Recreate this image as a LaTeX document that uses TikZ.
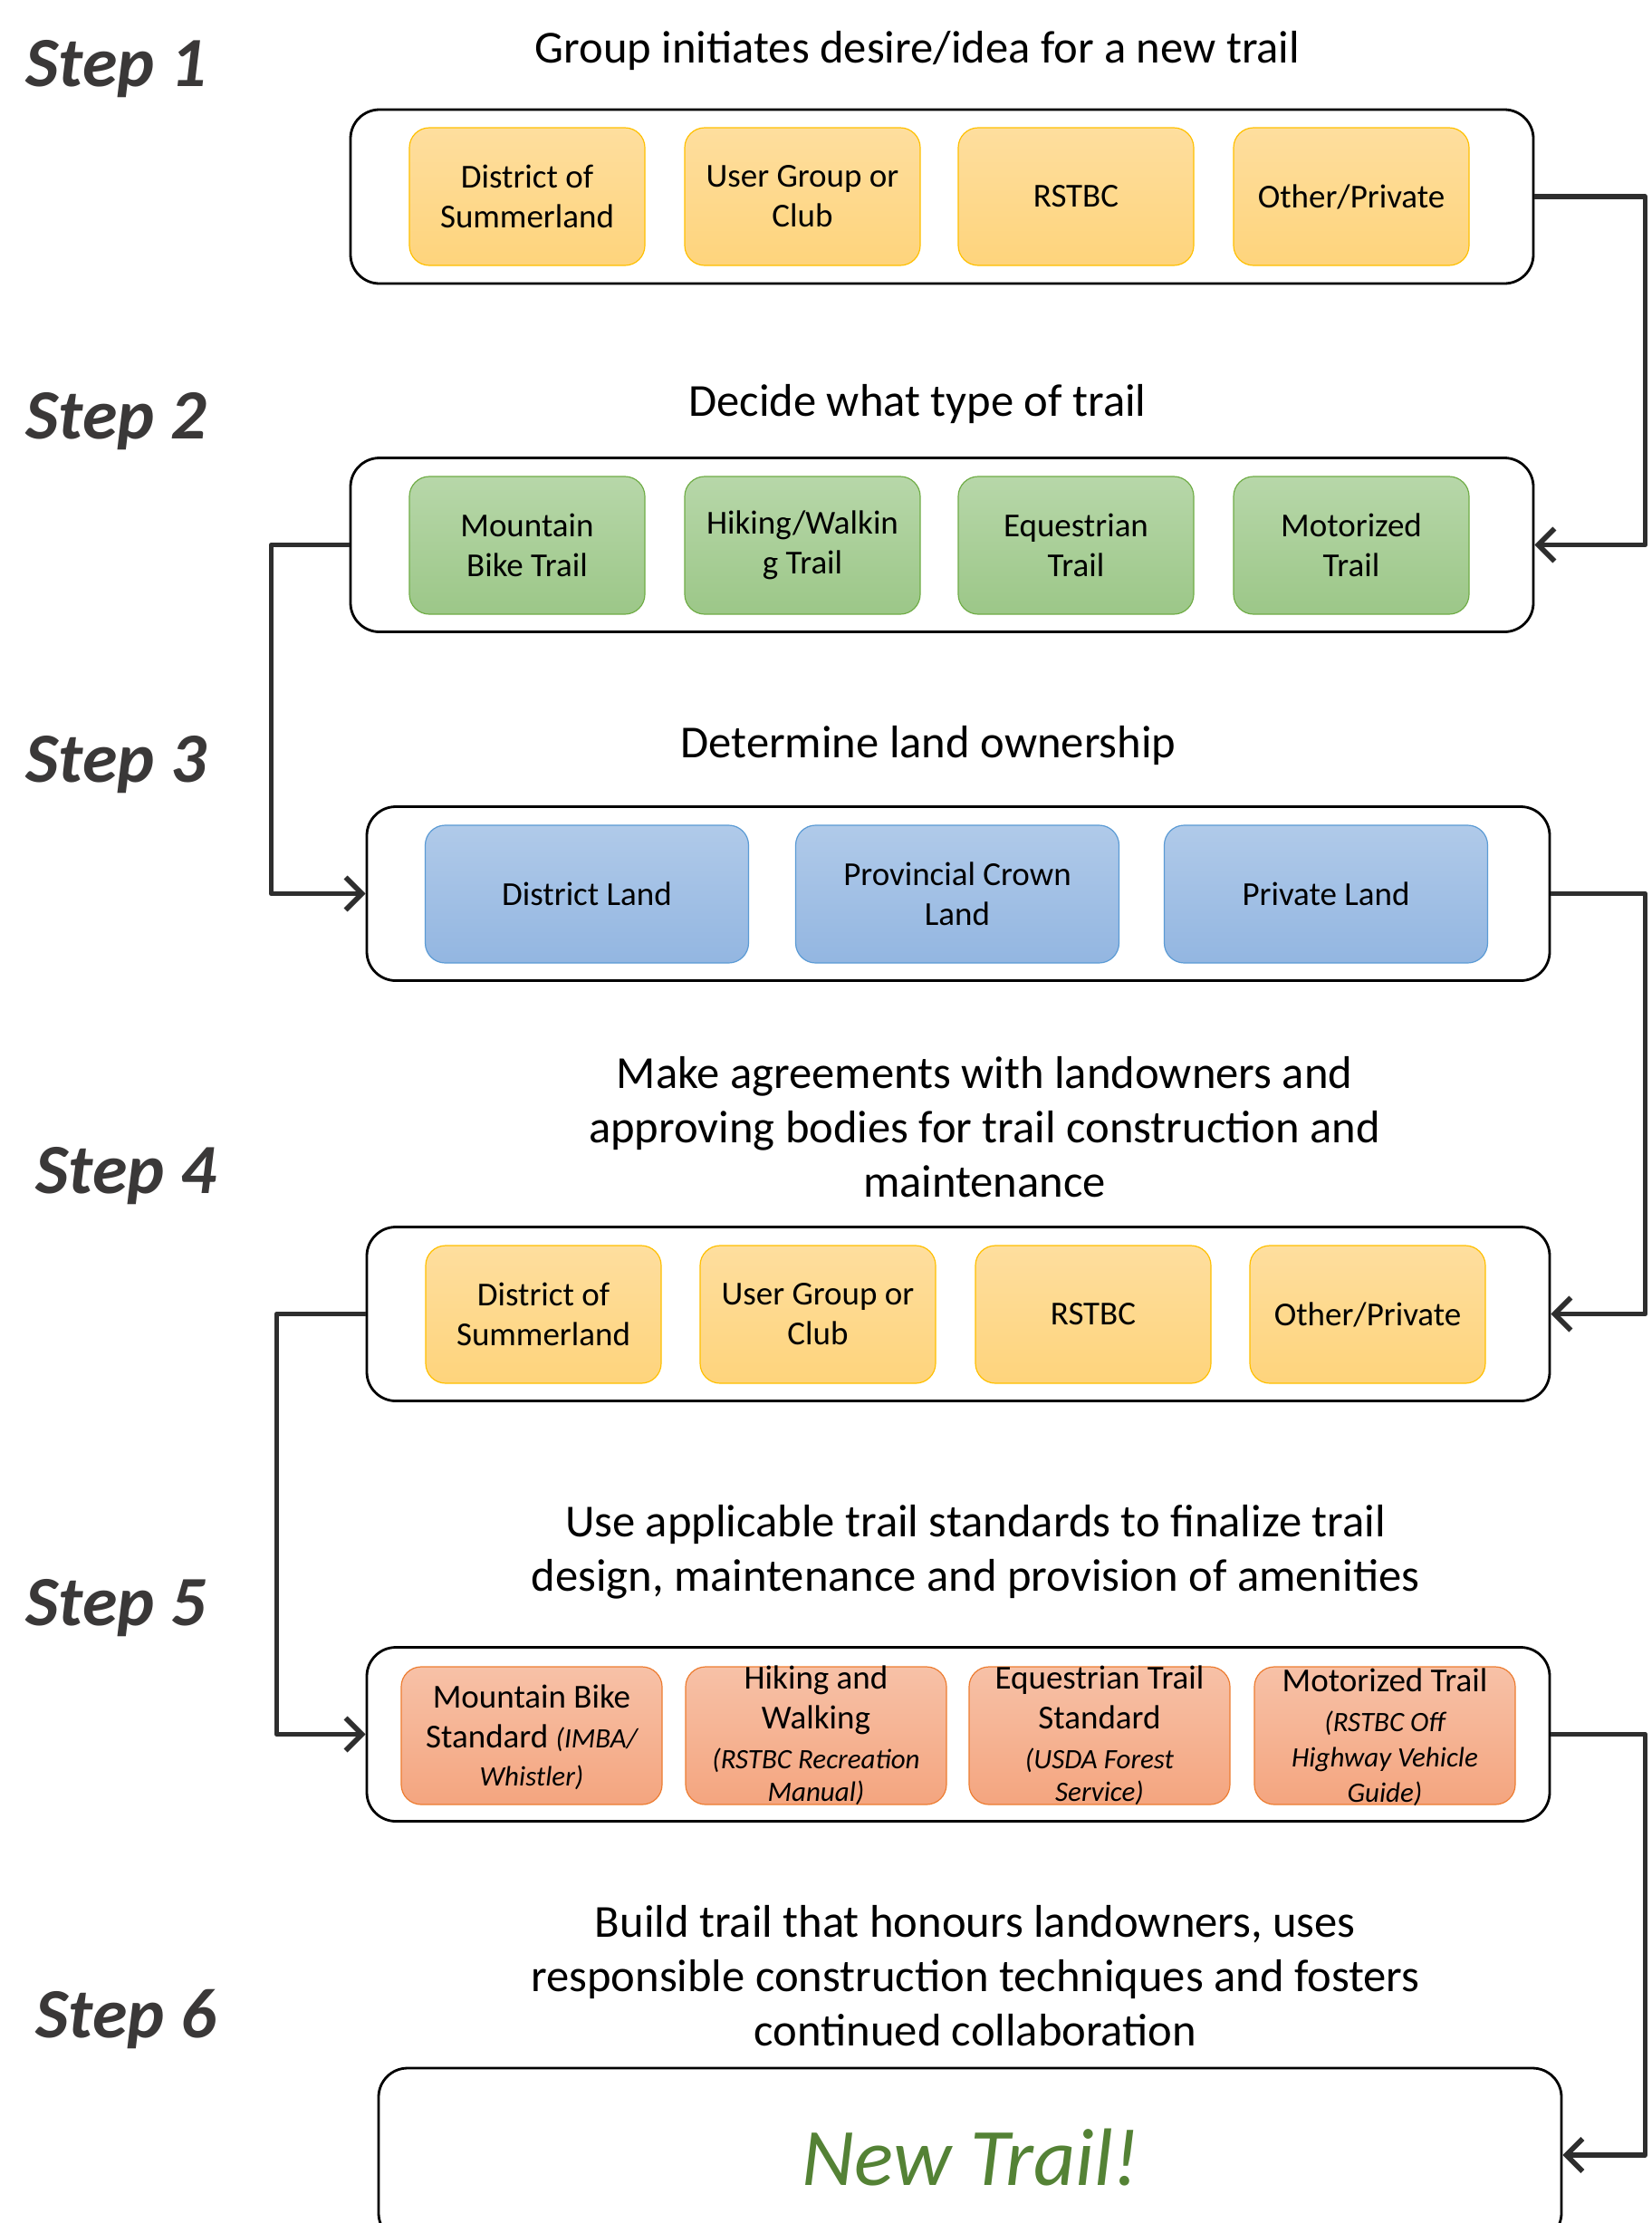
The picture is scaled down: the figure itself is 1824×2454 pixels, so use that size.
\documentclass[tikz,border=0pt]{standalone}
\usepackage{fontspec}
\setmainfont{Carlito}
\usetikzlibrary{arrows.meta}
\definecolor{ytop}{HTML}{FEDE9E}
\definecolor{ybot}{HTML}{FED47C}
\definecolor{yline}{HTML}{FFC000}
\definecolor{gtop}{HTML}{B7D7A9}
\definecolor{gbot}{HTML}{9CC788}
\definecolor{gline}{HTML}{70AD47}
\definecolor{btop}{HTML}{B0CAE9}
\definecolor{bbot}{HTML}{93B6E1}
\definecolor{bline}{HTML}{5B9BD5}
\definecolor{otop}{HTML}{F7C1A7}
\definecolor{obot}{HTML}{F4A57F}
\definecolor{oline}{HTML}{ED7D31}
\definecolor{stepgray}{HTML}{3A3838}
\definecolor{conngray}{HTML}{2E2E2E}
\definecolor{newgreen}{HTML}{548235}
\tikzset{
  outerbox/.style={draw=black, line width=1.4pt, rounded corners=16pt, minimum width=653pt, minimum height=96pt, fill=white},
  ibox/.style={rounded corners=11pt, minimum width=130pt, minimum height=76pt, align=center, font=\fontsize{18.5}{22}\selectfont, line width=0.6pt, inner sep=1pt},
  yelbox/.style={ibox, draw=yline, top color=ytop, bottom color=ybot},
  grnbox/.style={ibox, draw=gline, top color=gtop, bottom color=gbot},
  blubox/.style={ibox, draw=bline, top color=btop, bottom color=bbot, minimum width=178.5pt},
  orgbox/.style={ibox, draw=oline, top color=otop, bottom color=obot, minimum width=144pt},
  orgtext/.style={align=center, font=\fontsize{18.5}{22}\selectfont, inner sep=0pt},
  steplabel/.style={font=\fontsize{39}{47}\selectfont\bfseries\itshape, text=stepgray, anchor=west, inner sep=0pt},
  titletext/.style={font=\fontsize{25.3}{30}\selectfont, align=center},
  conn/.style={line width=2.8pt, draw=conngray, line join=round, -{Straight Barb[length=9pt,width=18pt]}}
}
\newcommand{\smit}[1]{{\fontsize{15.5}{18}\selectfont\itshape #1}}
\begin{document}
\begin{tikzpicture}[x=0.5pt,y=-0.5pt]
\useasboundingbox (0,0) rectangle (1824,2454);
\clip (0,0) rectangle (1824,2454);
\fill[white] (0,0) rectangle (1824,2454);

% step labels
\node[steplabel] (s1) at (28,76) {Step 1};
\node[steplabel] (s2) at (28,465) {Step 2};
\node[steplabel] (s3) at (28,844) {Step 3};
\node[steplabel] (s4) at (39,1298) {Step 4};
\node[steplabel] (s5) at (28,1775) {Step 5};
\node[steplabel] (s6) at (39,2229) {Step 6};

% titles
\node[titletext] (t1) at (1013,56) {Group initiates desire/idea for a new trail};
\node[titletext] (t2) at (1013,446) {Decide what type of trail};
\node[titletext] (t3) at (1025,823) {Determine land ownership};
\node[titletext] (t4) at (1087,1244) {Make agreements with landowners and\\approving bodies for trail construction and\\maintenance};
\node[titletext] (t5) at (1077,1713) {Use applicable trail standards to finalize trail\\design, maintenance and provision of amenities};
\node[titletext] (t6) at (1077,2181) {Build trail that honours landowners, uses\\responsible construction techniques and fosters\\continued collaboration};

% outer boxes
\node[outerbox] (b1) at (1040,217) {};
\node[outerbox] (b2) at (1040,601.5) {};
\node[outerbox] (b3) at (1058,986.5) {};
\node[outerbox] (b4) at (1058,1450.5) {};
\node[outerbox] (b5) at (1058,1914.5) {};
\node[outerbox] (b6) at (1071,2379) {};

% step 1
\node[yelbox] (a1) at (582,217) {District of\\Summerland};
\node[yelbox] (a2) at (886,217) {User Group or\\Club};
\node[yelbox] (a3) at (1188,217) {RSTBC};
\node[yelbox] (a4) at (1492,217) {Other/Private};

% step 2
\node[grnbox] (g1) at (582,602) {Mountain\\Bike Trail};
\node[grnbox] (g2) at (886,602) {Hiking/Walkin\\g Trail};
\node[grnbox] (g3) at (1188,602) {Equestrian\\Trail};
\node[grnbox] (g4) at (1492,602) {Motorized\\Trail};

% step 3
\node[blubox] (l1) at (648,987) {District Land};
\node[blubox] (l2) at (1057,987) {Provincial Crown\\Land};
\node[blubox] (l3) at (1464,987) {Private Land};

% step 4
\node[yelbox] (c1) at (600,1451) {District of\\Summerland};
\node[yelbox] (c2) at (903,1451) {User Group or\\Club};
\node[yelbox] (c3) at (1207,1451) {RSTBC};
\node[yelbox] (c4) at (1510,1451) {Other/Private};

% step 5
\node[orgbox] (o1) at (587,1916) {};
\node[orgbox] (o2) at (901,1916) {};
\node[orgbox] (o3) at (1214,1916) {};
\node[orgbox] (o4) at (1529,1916) {};
\node[orgtext] (o1t) at (587,1918) {Mountain Bike\\Standard \smit{(IMBA/}\\[-1pt]\smit{Whistler)}};
\node[orgtext] (o2t) at (901,1916) {Hiking and\\Walking\\\smit{(RSTBC Recreation}\\[-4pt]\smit{Manual)}};
\node[orgtext] (o3t) at (1214,1916) {Equestrian Trail\\Standard\\\smit{(USDA Forest}\\[-4pt]\smit{Service)}};
\node[orgtext] (o4t) at (1529,1918) {Motorized Trail\\\smit{(RSTBC Off}\\[-2.5pt]\smit{Highway Vehicle}\\[-2.5pt]\smit{Guide)}};

% step 6
\node[font=\fontsize{45}{54}\selectfont\itshape, text=newgreen] (nt) at (1072,2382) {New Trail!};

% connectors
\draw[conn] (b1.east) -- ++(122,0) |- (b2.east);
\draw[conn] (b2.west) -- ++(-86,0) |- (b3.west);
\draw[conn] (b3.east) -- ++(104,0) |- (b4.east);
\draw[conn] (b4.west) -- ++(-98,0) |- (b5.west);
\draw[conn] (b5.east) -- ++(104,0) |- (b6.east);
\end{tikzpicture}
\end{document}
